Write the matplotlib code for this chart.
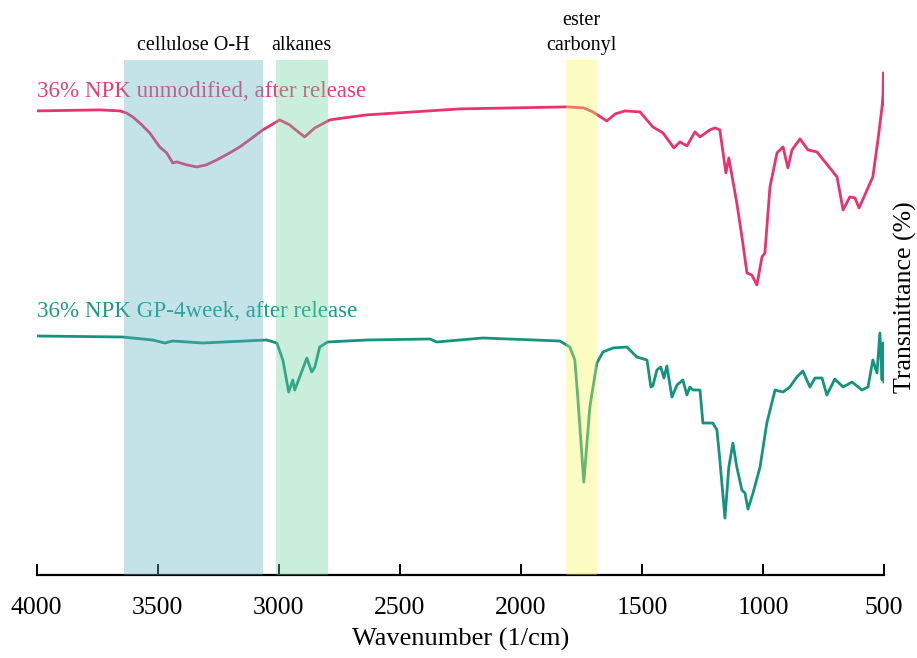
import numpy as np
import matplotlib
matplotlib.use("Agg")
import matplotlib.pyplot as plt

# FTIR spectra (wavenumber in 1/cm, transmittance in a.u.)
wn_unmod = [4000, 3740, 3657, 3630, 3603, 3570, 3533, 3492, 3463, 3438, 3421, 3380, 3339,
            3300, 3256, 3210, 3161, 3110, 3066, 2996, 2955, 2920, 2893, 2870, 2851, 2789,
            2700, 2636, 2252, 1810, 1740, 1703, 1645, 1610, 1570,
            1508, 1455, 1413, 1368, 1343, 1314, 1281, 1260, 1219, 1198, 1178, 1153,
            1141, 1108, 1085, 1066, 1046, 1025, 1004, 992, 971, 942, 917, 897, 880, 847,
            814, 777, 694, 669, 641, 620, 603, 570, 546, 525, 508, 504, 502, 501, 500]
t_unmod = [92.8, 93.0, 92.8, 92.4, 91.6, 90.2, 88.4, 85.6, 84.4, 82.4, 82.6, 82.0, 81.6,
           82.0, 83.0, 84.2, 85.6, 87.4, 89.0, 91.0, 90.0, 88.6, 87.6, 88.6, 89.4, 91.0,
           91.6, 92.0, 93.2, 93.6, 93.4, 92.6, 90.8, 92.2, 92.8,
           92.6, 89.6, 88.4, 85.4, 86.6, 85.8, 88.6, 87.6, 89.0, 89.4, 89.0, 80.4,
           83.4, 74.4, 67.0, 60.4, 60.0, 58.0, 63.6, 64.4, 77.6, 84.4, 85.6, 81.4, 85.0, 87.2,
           85.0, 84.6, 79.6, 73.0, 75.6, 75.4, 73.4, 77.0, 79.6, 87.0, 93.6, 96.0, 100.4, 94.0, 98.5]

wn_gp = [4000, 3645, 3521, 3471, 3438, 3314, 3050, 3008, 2983, 2959, 2942, 2934,
         2884, 2864, 2851, 2831, 2798, 2636, 2376, 2347, 2252, 2157, 1839, 1798,
         1777, 1765, 1740, 1715, 1686, 1661, 1620, 1562, 1521, 1479, 1463, 1455,
         1438, 1422, 1409, 1397, 1376, 1355, 1331, 1314, 1302, 1289, 1260, 1248,
         1207, 1190, 1178, 1157, 1141, 1124, 1108, 1087, 1074, 1062, 1041, 1012,
         984, 950, 917, 889, 860, 835, 806, 785, 756, 736, 703, 669, 632, 591,
         566, 546, 529, 517, 508, 504, 500]
t_gp = [47.8, 47.6, 47.0, 46.4, 46.8, 46.4, 47.0, 46.4, 43.0, 36.6, 39.0, 37.0,
        43.4, 40.6, 41.6, 45.6, 46.6, 47.0, 47.2, 46.6, 47.0, 47.4, 46.8, 45.6,
        43.0, 35.6, 18.6, 33.6, 42.4, 44.6, 45.4, 45.6, 43.6, 43.0, 37.6, 37.8,
        41.0, 41.6, 39.4, 41.8, 35.6, 38.0, 39.0, 36.0, 37.6, 37.0, 37.0, 30.4,
        30.4, 29.0, 23.0, 11.4, 21.6, 26.4, 21.6, 17.0, 16.4, 13.2, 16.4, 21.6,
        30.4, 37.0, 36.6, 37.6, 39.6, 40.8, 37.6, 39.4, 39.4, 36.0, 39.2, 37.6, 38.6, 37.0,
        37.6, 43.0, 40.4, 48.4, 39.0, 46.4, 38.6]

# highlighted regions
band_names = ["cellulose O-H", "alkanes", "ester\ncarbonyl"]
band_lo = [3066, 2798, 1686]
band_hi = [3640, 3012, 1814]
band_colors = ["#5eb2c0", "#6ad09c", "#f5f556"]

series_labels = ["36% NPK unmodified, after release", "36% NPK GP-4week, after release"]
pink = "#e8336e"
teal = "#14937f"

plt.rcParams['font.family'] = ['Liberation Serif', 'DejaVu Serif']

fig = plt.figure(figsize=(9.17, 6.58), dpi=100)
ax = fig.add_axes([0.040, 0.126, 0.924, 0.783])

ax.plot(wn_unmod, t_unmod, color=pink, lw=2.0, zorder=2)
ax.plot(wn_gp, t_gp, color=teal, lw=2.0, zorder=2)

ax.text(4000, 96.6, series_labels[0], color="#e23f76", fontsize=16.6,
        ha="left", va="center", zorder=1)
ax.text(4000, 52.6, series_labels[1], color="#18998a", fontsize=16.6,
        ha="left", va="center", zorder=1)

for name, lo, hi, c in zip(band_names, band_lo, band_hi, band_colors):
    ax.axvspan(lo, hi, color=c, alpha=0.36, lw=0, zorder=3)
    ax.text((lo + hi) / 2, 1.01, name, transform=ax.get_xaxis_transform(),
            ha="center", va="bottom", fontsize=14.5, linespacing=1.4)

ax.set_xlim(4000, 500)
ax.set_ylim(0, 103)
ax.set_xticks([4000, 3500, 3000, 2500, 2000, 1500, 1000, 500])
ax.set_yticks([])
for s in ["top", "left", "right"]:
    ax.spines[s].set_visible(False)
ax.spines["bottom"].set_linewidth(1.6)
ax.tick_params(axis="x", direction="in", length=8, width=1.4, labelsize=18.5, pad=16)
ax.set_xlabel("Wavenumber (1/cm)", fontsize=19, labelpad=6)

fig.text(0.987, 0.549, "Transmittance (%)", rotation=90, fontsize=18.5,
         ha="center", va="center")

fig.savefig("out.png", dpi=100)
